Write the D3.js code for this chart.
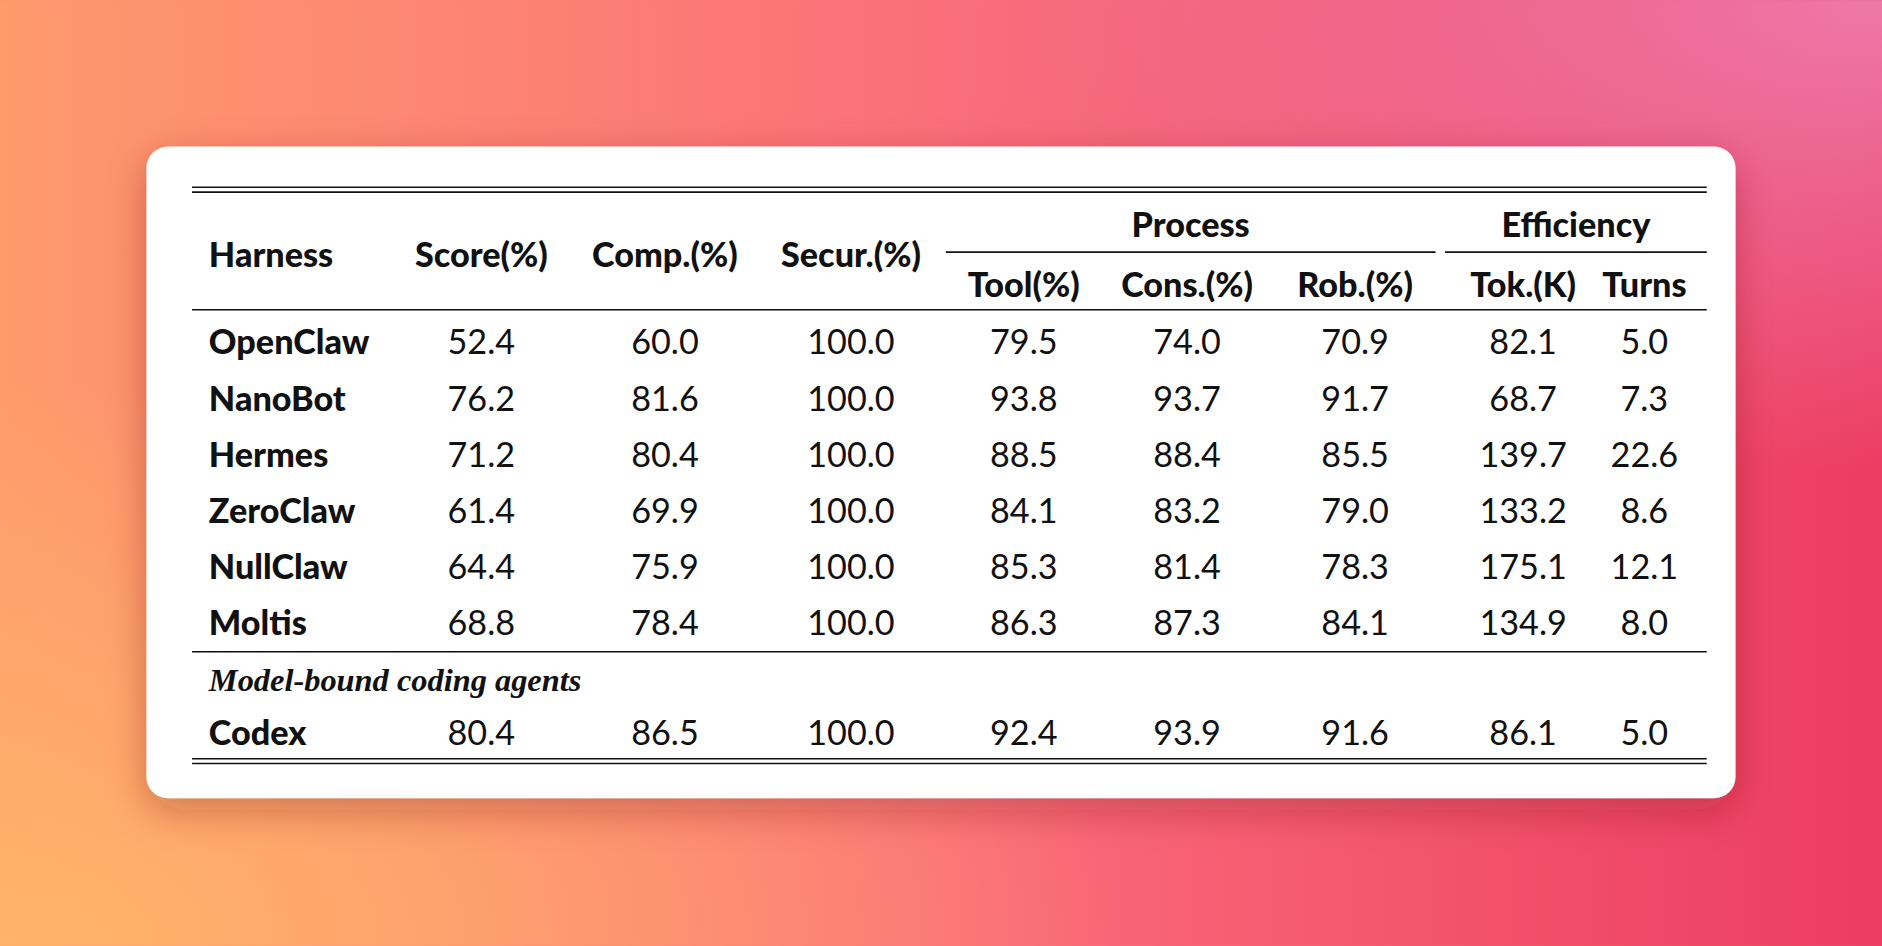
<!DOCTYPE html>
<html><head><meta charset="utf-8">
<script src="https://cdn.jsdelivr.net/npm/d3@7"></script>
<style>html,body{margin:0;padding:0;overflow:hidden;background:#f77}</style>
</head><body><svg id="c" width="1882" height="946" viewBox="0 0 1568 788"></svg>
<script>
var columns = ["Harness","Score(%)","Comp.(%)","Secur.(%)","Tool(%)","Cons.(%)","Rob.(%)","Tok.(K)","Turns"];
var groups = [{name:"Process", from:4, to:6}, {name:"Efficiency", from:7, to:8}];
var harnesses = ["OpenClaw","NanoBot","Hermes","ZeroClaw","NullClaw","Moltis"];
var harnessValues = [
  ["52.4","60.0","100.0","79.5","74.0","70.9","82.1","5.0"],
  ["76.2","81.6","100.0","93.8","93.7","91.7","68.7","7.3"],
  ["71.2","80.4","100.0","88.5","88.4","85.5","139.7","22.6"],
  ["61.4","69.9","100.0","84.1","83.2","79.0","133.2","8.6"],
  ["64.4","75.9","100.0","85.3","81.4","78.3","175.1","12.1"],
  ["68.8","78.4","100.0","86.3","87.3","84.1","134.9","8.0"]
];
var sectionLabel = "Model-bound coding agents";
var agents = ["Codex"];
var agentValues = [["80.4","86.5","100.0","92.4","93.9","91.6","86.1","5.0"]];

var svg = d3.select("#c");
var defs = svg.append("defs");
function lin(id, x1,y1,x2,y2, stops){
  var g = defs.append("linearGradient").attr("id",id).attr("x1",x1).attr("y1",y1).attr("x2",x2).attr("y2",y2);
  stops.forEach(function(s){ g.append("stop").attr("offset",s[0]).attr("stop-color",s[1]).attr("stop-opacity",s[2]==null?1:s[2]); });
}
lin("bgH",0,0,1,0,[[0,"#fe9a6c"],[0.5,"#fb6e7a"],[1,"#ec3c62"]]);
var rg = defs.append("radialGradient").attr("id","tr").attr("cx",1).attr("cy",0).attr("r",0.5);
rg.append("stop").attr("offset",0).attr("stop-color","#ee78a8");
rg.append("stop").attr("offset",1).attr("stop-color","#ee78a8").attr("stop-opacity",0);
var rg2 = defs.append("radialGradient").attr("id","bl").attr("cx",0).attr("cy",1).attr("r",0.6);
rg2.append("stop").attr("offset",0).attr("stop-color","#ffb46a");
rg2.append("stop").attr("offset",1).attr("stop-color","#ffb46a").attr("stop-opacity",0);
var f = defs.append("filter").attr("id","sh").attr("x",-0.1).attr("y",-0.1).attr("width",1.2).attr("height",1.3);
f.append("feDropShadow").attr("dx",0).attr("dy",10).attr("stdDeviation",16).attr("flood-color","#7a1a20").attr("flood-opacity",0.35);

svg.append("rect").attr("width",1568).attr("height",788).attr("fill","url(#bgH)");
svg.append("rect").attr("width",1568).attr("height",788).attr("fill","url(#bl)");
svg.append("rect").attr("width",1568).attr("height",788).attr("fill","url(#tr)");
svg.append("rect").attr("x",122).attr("y",122).attr("width",1324).attr("height",543).attr("rx",18)
  .attr("fill","#fff").attr("filter","url(#sh)");

var x = d3.scaleOrdinal().domain(columns).range([174,401,554,709,853,989,1129,1269,1370]);
var left = 160, right = 1422;
var rowY = d3.scalePoint().domain(harnesses).range([285,519]);
var font = "Lato, 'Open Sans', sans-serif";

function rule(y1, x1, x2, w){ svg.append("line").attr("x1",x1).attr("x2",x2).attr("y1",y1).attr("y2",y1).attr("stroke","#111").attr("stroke-width",w||1.3); }
rule(156,left,right); rule(160,left,right);
rule(258,left,right);
rule(543,left,right);
rule(632,left,right); rule(636,left,right);

function txt(s, xx, yy, anchor, weight, size){
  return svg.append("text").attr("x",xx).attr("y",yy).attr("dy","0.36em").attr("text-anchor",anchor)
    .attr("font-family",font).attr("font-size",size||28).attr("font-weight",weight||400).attr("fill","#111").text(s);
}
columns.forEach(function(c,i){
  var grouped = groups.some(function(g){return i>=g.from && i<=g.to;});
  txt(c, x(c), grouped ? 237 : 212, i===0 ? "start" : "middle", 900, 28.5);
});
groups.forEach(function(g){
  var x1 = g.from===4 ? 788 : 1204, x2 = g.to===8 ? right : 1196;
  rule(210, x1, x2);
  txt(g.name, (x1+x2)/2, 187, "middle", 900, 28.5);
});
function drawRows(names, vals, yOf){
  names.forEach(function(n,r){
    var y = yOf(n);
    txt(n, x(columns[0]), y, "start", 900, 28.5);
    vals[r].forEach(function(v,j){ txt(v, x(columns[j+1]), y, "middle", 400, 28.5); });
  });
}
drawRows(harnesses, harnessValues, rowY);
svg.append("text").attr("x",174).attr("y",566).attr("dy","0.36em").attr("font-family","'Liberation Serif', serif")
  .attr("font-style","italic").attr("font-weight",700).attr("font-size",27).attr("fill","#111").text(sectionLabel);
drawRows(agents, agentValues, function(){ return 610; });
</script></body></html>
